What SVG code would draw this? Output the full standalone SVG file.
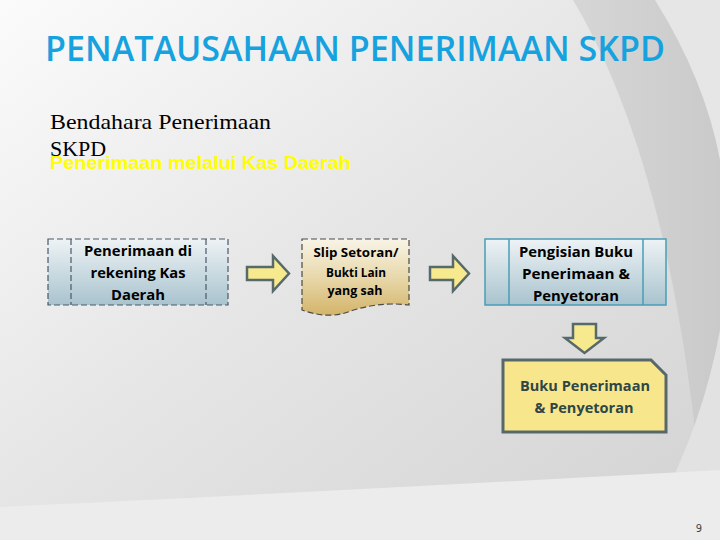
<svg xmlns="http://www.w3.org/2000/svg" width="720" height="540" viewBox="0 0 720 540">
<defs>
<linearGradient id="bg" x1="0" y1="0" x2="1" y2="1">
<stop offset="0" stop-color="#fbfbfb"/>
<stop offset="0.45" stop-color="#e6e6e6"/>
<stop offset="1" stop-color="#d2d2d2"/>
</linearGradient>
<linearGradient id="band" x1="0" y1="0" x2="1" y2="0">
<stop offset="0" stop-color="#d6d6d6"/>
<stop offset="1" stop-color="#cacaca"/>
</linearGradient>
<linearGradient id="blue" x1="0" y1="0" x2="0" y2="1">
<stop offset="0" stop-color="#eef3f5"/>
<stop offset="0.5" stop-color="#cbdbe2"/>
<stop offset="1" stop-color="#a9c3ce"/>
</linearGradient>
<linearGradient id="tan" x1="0" y1="0" x2="0" y2="1">
<stop offset="0" stop-color="#f8f4e6"/>
<stop offset="0.5" stop-color="#e8d8ab"/>
<stop offset="1" stop-color="#d3b469"/>
</linearGradient>
<style>
.t{font-family:"Open Sans","Liberation Sans",sans-serif;font-weight:bold;text-anchor:middle;fill:#000}
.n{fill:#2e4646}
.arrow{fill:#f7e98e;stroke:#56696b;stroke-width:2.5;stroke-linejoin:miter}
</style>
</defs>
<rect width="720" height="540" fill="url(#bg)"/>
<path d="M573,0 Q680,180 705,540 L720,540 L720,0 Z" fill="url(#band)"/>
<path d="M655,0 Q705,80 720,160 L720,0 Z" fill="#e6e6e6"/>
<path d="M720,330 Q700,440 640,540 L720,540 Z" fill="#e2e2e2"/>
<path d="M0,507 Q300,493 720,470 L720,540 L0,540 Z" fill="#ececec"/>

<text x="45" y="61" font-family="Open Sans, Liberation Sans, sans-serif" font-weight="600" font-size="34" fill="#16a2de" textLength="620" lengthAdjust="spacingAndGlyphs">PENATAUSAHAAN PENERIMAAN SKPD</text>

<g id="header">
<text x="50" y="129" font-family="Liberation Serif, serif" font-size="22" fill="#000" textLength="221" lengthAdjust="spacingAndGlyphs">Bendahara Penerimaan</text>
<text x="50" y="156" font-family="Liberation Serif, serif" font-size="22" fill="#000">SKPD</text>
<text x="50" y="169" font-family="Liberation Sans, Arial, sans-serif" font-weight="bold" font-size="18" fill="#ffff00" textLength="301" lengthAdjust="spacingAndGlyphs">Penerimaan melalui Kas Daerah</text>
</g>

<g id="node1">
<rect x="48" y="239" width="180" height="66" fill="url(#blue)" stroke="#4a5868" stroke-width="1.2" stroke-dasharray="6,3"/>
<line x1="71" y1="239" x2="71" y2="305" stroke="#4a5868" stroke-width="1.2" stroke-dasharray="6,3"/>
<line x1="206" y1="239" x2="206" y2="305" stroke="#4a5868" stroke-width="1.2" stroke-dasharray="6,3"/>
<text class="t" x="138" y="256" font-size="14" textLength="108" lengthAdjust="spacingAndGlyphs">Penerimaan di</text>
<text class="t" x="138" y="278" font-size="14" textLength="95" lengthAdjust="spacingAndGlyphs">rekening Kas</text>
<text class="t" x="138" y="300" font-size="14" textLength="54" lengthAdjust="spacingAndGlyphs">Daerah</text>
</g>

<g id="node2">
<path d="M302,239 L409,239 L409,305 C385,302 365,306 348,312 C335,317 318,316 302,310 Z" fill="url(#tan)" stroke="#4a4a4a" stroke-width="1.2" stroke-dasharray="6,3"/>
<text class="t" x="356" y="257" font-size="13" textLength="85" lengthAdjust="spacingAndGlyphs">Slip Setoran/</text>
<text class="t" x="356" y="277" font-size="13" textLength="60" lengthAdjust="spacingAndGlyphs">Bukti Lain</text>
<text class="t" x="355" y="295" font-size="13" textLength="55" lengthAdjust="spacingAndGlyphs">yang sah</text>
</g>

<g id="node3">
<rect x="485" y="239" width="181" height="66" fill="url(#blue)" stroke="#4a9db5" stroke-width="1.5"/>
<line x1="509" y1="239" x2="509" y2="305" stroke="#4a9db5" stroke-width="1.5"/>
<line x1="643" y1="239" x2="643" y2="305" stroke="#4a9db5" stroke-width="1.5"/>
<text class="t" x="576" y="257" font-size="14.5" textLength="114" lengthAdjust="spacingAndGlyphs">Pengisian Buku</text>
<text class="t" x="576" y="279" font-size="14.5" textLength="108" lengthAdjust="spacingAndGlyphs">Penerimaan &amp;</text>
<text class="t" x="576" y="301" font-size="14.5" textLength="86" lengthAdjust="spacingAndGlyphs">Penyetoran</text>
</g>

<g id="node4">
<path d="M503,360 L651,360 L666,375 L666,432 L503,432 Z" fill="#f8e68c" stroke="#56686a" stroke-width="3"/>
<text class="t n" x="585" y="391" font-size="14.5" textLength="130" lengthAdjust="spacingAndGlyphs">Buku Penerimaan</text>
<text class="t n" x="584" y="413" font-size="14.5" textLength="99" lengthAdjust="spacingAndGlyphs">&amp; Penyetoran</text>
</g>

<g id="connectors">
<path class="arrow" d="M247,267 L273,267 L273,256 L289,273.5 L273,291 L273,280 L247,280 Z"/>
<path class="arrow" d="M430,267 L453,267 L453,256 L469,273.5 L453,291 L453,280 L430,280 Z"/>
<path class="arrow" d="M573,324 L596,324 L596,338 L604,338 L584.5,353 L565,338 L573,338 Z"/>
</g>

<text x="699" y="532" font-family="DejaVu Sans, sans-serif" font-size="10" fill="#444" text-anchor="middle">9</text>
</svg>
